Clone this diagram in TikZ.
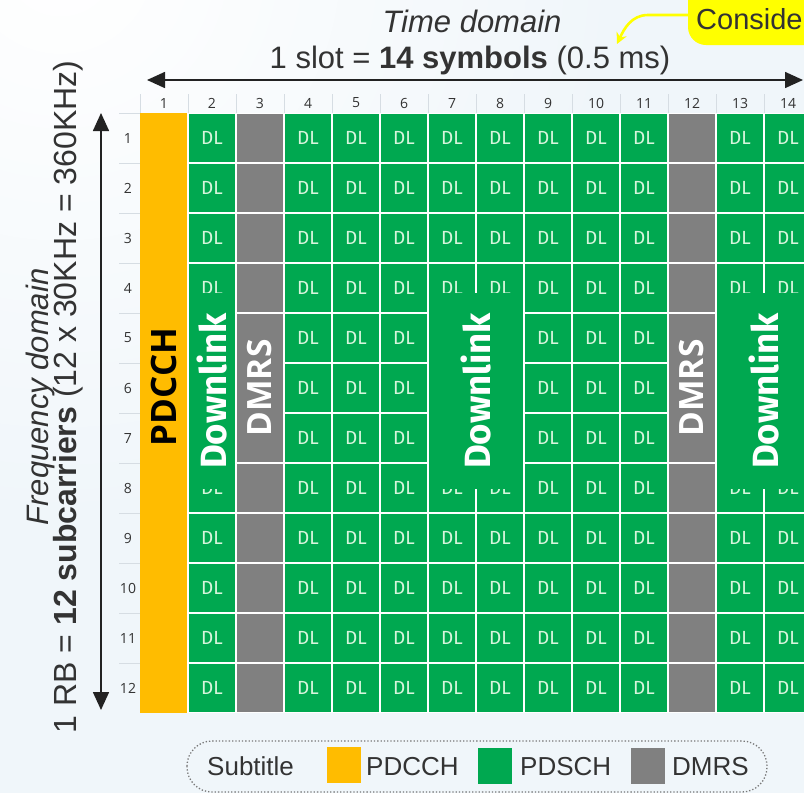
\documentclass[tikz,border=0pt]{standalone}
\usepackage{fontspec}
\setmainfont{Liberation Sans}
\newfontfamily\opensans{Open Sans}
\newfontfamily\firasans{Fira Sans}
\usetikzlibrary{arrows.meta}

\definecolor{bgcol}{RGB}{240,246,250}
\definecolor{pdcchcol}{RGB}{255,188,0}
\definecolor{pdschcol}{RGB}{0,168,80}
\definecolor{dmrscol}{RGB}{128,128,128}
\definecolor{dltext}{RGB}{215,245,220}
\definecolor{ink}{RGB}{51,51,51}
\definecolor{arrowink}{RGB}{34,34,34}
\definecolor{calloutcol}{RGB}{255,255,0}
\definecolor{faint}{RGB}{214,221,227}
\definecolor{framecol}{RGB}{120,120,120}

\tikzset{
  cellbox/.style={inner sep=0pt, minimum width=46pt, minimum height=48pt},
  dlcell/.style={cellbox, fill=pdschcol, text=dltext, font=\firasans\fontsize{19}{19}\selectfont},
  dmrscell/.style={cellbox, fill=dmrscol},
  pdcchband/.style={inner sep=0pt, minimum width=47pt, minimum height=600pt, fill=pdcchcol},
  bandlabel/.style={rotate=90, inner sep=0pt, text=black, font=\opensans\bfseries\fontsize{35}{35}\selectfont},
  mergedl/.style={rotate=90, inner sep=0pt, fill=pdschcol, text=white, font=\firasans\bfseries\fontsize{36.5}{36.5}\selectfont},
  mergedmrs/.style={rotate=90, inner sep=0pt, fill=dmrscol, text=white, font=\opensans\bfseries\fontsize{33.5}{33.5}\selectfont},
  idxlabel/.style={inner sep=0pt, text=ink, font=\opensans\fontsize{14}{14}\selectfont},
  faintline/.style={draw=faint, line width=0.8pt},
  dimarrow/.style={draw=arrowink, line width=1.6pt, {Triangle[length=18pt,width=16pt]}-{Triangle[length=18pt,width=16pt]}},
  headtext/.style={inner sep=0pt, text=ink, font=\fontsize{31}{31}\selectfont},
  sidetext/.style={rotate=90, anchor=base, inner sep=0pt, text=ink, font=\fontsize{30}{30}\selectfont},
  legendframe/.style={draw=framecol, dotted, line width=1.3pt, rounded corners=25pt},
  legendtext/.style={anchor=base west, inner sep=0pt, text=ink, font=\fontsize{26}{26}\selectfont},
  swatch/.style={inner sep=0pt, minimum width=34pt, minimum height=36pt},
  yellowarrow/.style={draw=calloutcol, line width=2.6pt, -{Stealth[length=11pt,width=11pt]}},
}

\begin{document}
\begin{tikzpicture}[x=1pt,y=-1pt]
\useasboundingbox (0,0) rectangle (804,793);

% page background with a light top-left glow
\fill[bgcol] (0,0) rectangle (804,793);
\begin{scope}
  \clip (0,0) rectangle (804,793);
  \shade[inner color=white, outer color=bgcol] (60,-40) circle (560);
\end{scope}

% faint index grid around the symbol/subcarrier numbers
\foreach \k in {0,...,13}
  \draw[faintline] ({140+48*\k},94) -- ({140+48*\k},113);
\foreach \k in {0,...,11}
  \draw[faintline] (119,{113+50*\k}) -- (140,{113+50*\k});

% symbol numbers (columns) and subcarrier numbers (rows)
\foreach \c in {1,...,14}
  \node[idxlabel] (col-\c) at ({164+48*(\c-1)},103) {\c};
\foreach \r in {1,...,12}
  \node[idxlabel] (row-\r) at (128,{138+50*(\r-1)}) {\r};

% resource grid: white separators come from the underlay
\fill[white] (140,113) rectangle (812,713);
\node[pdcchband] (pdcch-band) at (163.5,413) {};
\foreach \c in {2,4,5,6,7,8,9,10,11,13,14}
  \foreach \r in {1,...,12}
    \node[dlcell] (cell-\r-\c) at ({164+48*(\c-1)},{138+50*(\r-1)}) {DL};
\foreach \c in {3,12}
  \foreach \r in {1,...,12}
    \node[dmrscell] (cell-\r-\c) at ({164+48*(\c-1)},{138+50*(\r-1)}) {};

% merged blocks with their labels
\node[bandlabel] (pdcch-label) at (164,387) {PDCCH};
\node[mergedl, minimum width=196pt, minimum height=46pt] (dl-a) at (212,391) {Downlink};
\node[mergedmrs, minimum width=148pt, minimum height=46pt] (dmrs-a) at (260,388) {DMRS};
\node[mergedl, minimum width=196pt, minimum height=94pt] (dl-b) at (476,391) {Downlink};
\node[mergedmrs, minimum width=148pt, minimum height=46pt] (dmrs-b) at (692,388) {DMRS};
\node[mergedl, minimum width=196pt, minimum height=94pt] (dl-c) at (764,391) {Downlink};

% time axis
\node[headtext, anchor=base, font=\itshape\fontsize{31}{31}\selectfont] (time-title) at (472,32) {Time domain};
\node[headtext, anchor=base] (slot-title) at (470,68) {1 slot = \textbf{14 symbols} (0.5 ms)};
\coordinate (t-left) at (147,80);
\coordinate (t-right) at (803,80);
\draw[dimarrow] (t-left) -- (t-right);

% frequency axis
\node[sidetext, font=\itshape\fontsize{31}{31}\selectfont] (freq-title) at (48,397) {Frequency domain};
\node[sidetext, font=\fontsize{32}{32}\selectfont] (rb-title) at (76,397) {1 RB = \textbf{12 subcarriers} (12 x 30KHz = 360KHz)};
\coordinate (f-top) at (101,113);
\coordinate (f-bottom) at (101,710);
\draw[dimarrow] (f-top) -- (f-bottom);

% callout in the top right corner
\fill[calloutcol, rounded corners=18pt] (688,-40) rectangle (900,45);
\node[anchor=base west, inner sep=0pt, text=ink, font=\fontsize{29}{29}\selectfont] (callout) at (696,29) {Conside};
\coordinate (c-start) at (688,15);
\coordinate (c-end) at (617,44);
\draw[yellowarrow] (c-start) -- (648,15) to[out=180,in=65] (c-end);

% legend
\draw[legendframe] (187,741) rectangle (767,792);
\node[legendtext] (leg-title) at (207,775) {Subtitle};
\node[swatch, fill=pdcchcol] (sw-pdcch) at (343.5,765) {};
\node[legendtext] (leg-pdcch) at (366,775) {PDCCH};
\node[swatch, fill=pdschcol] (sw-pdsch) at (495,765.5) {};
\node[legendtext] (leg-pdsch) at (520,775) {PDSCH};
\node[swatch, fill=dmrscol] (sw-dmrs) at (647.5,765.5) {};
\node[legendtext] (leg-dmrs) at (672,775) {DMRS};
\end{tikzpicture}
\end{document}
